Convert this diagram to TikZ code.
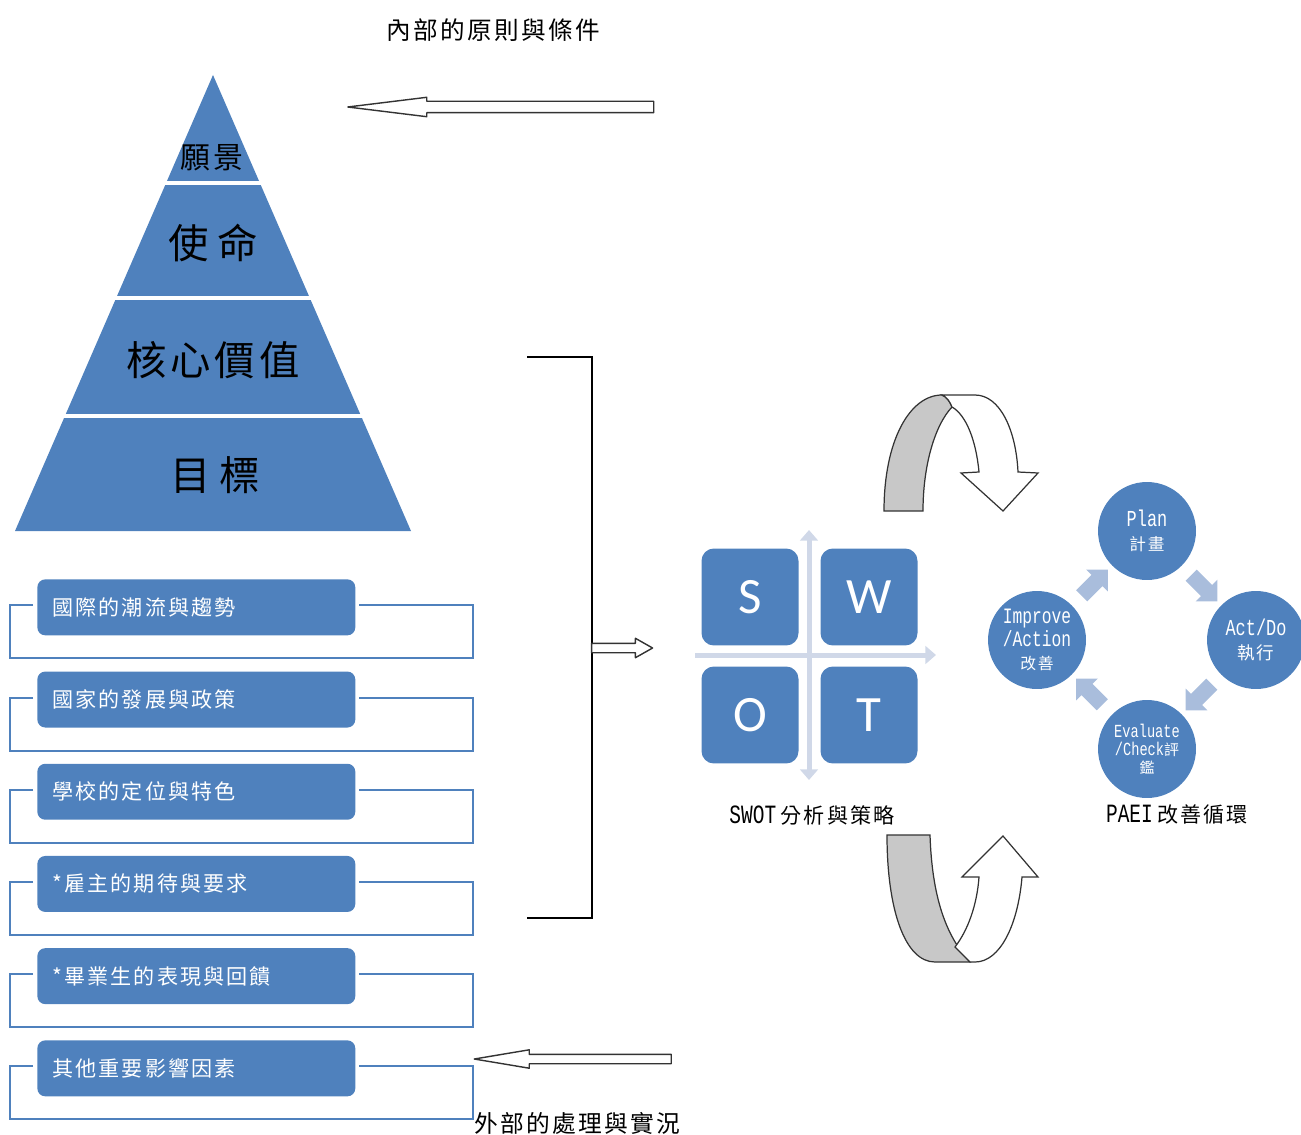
\documentclass[tikz,border=0pt]{standalone}
\usepackage{fontspec}
\setmainfont{Liberation Serif}
\newfontfamily\cjk[LetterSpace=10]{Noto Sans CJK TC}
\newfontfamily\latinnarrow[FakeStretch=0.74]{Liberation Mono}
\newfontfamily\swotfont{Carlito}
\usepackage{tikz}
\usetikzlibrary{shapes.geometric, shapes.arrows, arrows.meta, positioning, calc}
\definecolor{officeblue}{HTML}{4F81BD}
\definecolor{axisgray}{HTML}{D0D8E8}
\definecolor{cyclelight}{HTML}{A9BDDC}
\definecolor{foldgray}{HTML}{C8C8C8}

\tikzset{
  layertext/.style={text=black, inner sep=0pt},
  factorbox/.style={rectangle, rounded corners=4.5pt, fill=officeblue, text=white,
    text width=5.76cm, inner xsep=0.3cm, minimum height=1.12cm, align=left,
    font=\cjk\fontsize{12}{12}\selectfont},
  factorline/.style={draw=officeblue, line width=1.1pt},
  swotbox/.style={rectangle, rounded corners=7pt, fill=officeblue, text=white,
    minimum size=1.94cm, inner sep=0pt, font=\swotfont\fontsize{29}{29}\selectfont},
  swotaxis/.style={draw=axisgray, line width=0.1cm, {Triangle[length=6pt,width=10pt]}-{Triangle[length=6pt,width=10pt]}},
  cyclenode/.style={circle, fill=officeblue, text=white, minimum size=1.96cm,
    inner sep=0pt, align=center, font=\fontsize{13}{13.3}\selectfont\latinnarrow},
  cyclearrow/.style={single arrow, fill=cyclelight, minimum height=0.74cm,
    inner xsep=0pt, inner ysep=0.15cm, single arrow head extend=0.15cm,
    sloped, allow upside down},
  hollowarrow/.style={single arrow, draw=black!80, fill=white, line width=0.8pt,
    line join=round, inner xsep=0pt, anchor=tip},
  uturn/.style={draw=black!80, line width=0.7pt},
  caption/.style={inner sep=0pt, text=black}
}

\begin{document}
\begin{tikzpicture}[x=0.02cm, y=-0.02cm]
\useasboundingbox (0,0) rectangle (1301,1135);

% internal side
\node[caption, font=\cjk\fontsize{14}{14}\selectfont] (innertitle) at (493,30) {內部的原則與條件};
\node[hollowarrow, minimum height=6.12cm, inner ysep=0.1cm,
      single arrow head extend=0.08cm, single arrow tip angle=14, rotate=180] (innerarrow) at (342,107) {};

% pyramid
\fill[officeblue] (213,75) -- (411,531) -- (15,531) -- cycle;
\foreach \y in {183,298,416}
  \draw[white, line width=0.07cm] (40,\y) -- (390,\y);
\node[layertext, font=\cjk\fontsize{17}{17}\selectfont] (vision) at (212,158) {願\hspace{2pt}景};
\node[layertext, font=\cjk\fontsize{23}{23}\selectfont] (mission) at (213,243) {使\hspace{5pt}命};
\node[layertext, font=\cjk\fontsize{23}{23}\selectfont] (values) at (213,360) {核心價值};
\node[layertext, font=\cjk\fontsize{23}{23}\selectfont] (goals) at (215,475) {目\hspace{5pt}標};

% external factors
\foreach \txt [count=\i] in {國際的潮流與趨勢, 國家的發展與政策, 學校的定位與特色,
    *雇主的期待與要求, *畢業生的表現與回饋, 其他重要影響因素} {
  \pgfmathsetmacro{\ytop}{579+92.2*(\i-1)}
  \node[factorbox, anchor=north west] (factor\i) at (37,\ytop) {\txt};
  \draw[factorline] ([xshift=-0.08cm,yshift=0.04cm]factor\i.west) -- ++(-23,0) -- ++(0,53)
    -- ++(463,0) -- ++(0,-53) -- ([xshift=0.06cm,yshift=0.04cm]factor\i.east);
}

% bracket
\coordinate (brtop) at (527,357);
\coordinate (brbot) at (527,918);
\draw[black, line width=0.9pt] (brtop) -- ++(65,0) -- ++(0,561) -- (brbot);
\node[hollowarrow, minimum height=1.22cm, inner ysep=0.08cm,
      single arrow head extend=0.1cm, single arrow tip angle=59] (toswot) at (654,648) {};

\node[hollowarrow, minimum height=3.94cm, inner ysep=0.08cm,
      single arrow head extend=0.09cm, single arrow tip angle=19, rotate=180] (outerarrow) at (470,1059) {};
\node[caption, font=\cjk\fontsize{13.5}{13.5}\selectfont, anchor=west] (outertitle) at (474,1123) {外部的處理與實況};

% SWOT
\coordinate (vtop) at (809,530);
\coordinate (vbot) at (809,780);
\coordinate (hleft) at (695,655);
\coordinate (hright) at (936,655);
\draw[swotaxis] (vtop) -- (vbot);
\draw[draw=axisgray, line width=0.1cm, -{Triangle[length=6pt,width=10pt]}] (hleft) -- (hright);
\node[swotbox] (s) at (750,597) {S};
\node[swotbox] (w) at (869,597) {W};
\node[swotbox] (o) at (750,715) {O};
\node[swotbox] (t) at (869,715) {T};
\node[caption] (swottitle) at (812,815)
  {{\latinnarrow\fontsize{15}{15}\selectfont SWOT} {\cjk\fontsize{12}{12}\selectfont 分析與策略}};

% u-turn arrows
\draw[uturn, fill=foldgray] (884,511) .. controls (884,440) and (910,395) .. (942,395)
  .. controls (947,397) and (950,402) .. (952,407)
  .. controls (935,425) and (923,465) .. (923,511) -- cycle;
\draw[uturn, fill=white] (942,395) -- (975,395) .. controls (1000,395) and (1016,430) .. (1018,472)
  -- (1038,473) -- (1003,511) -- (961,473) -- (979,472)
  .. controls (976,440) and (966,415) .. (952,407)
  .. controls (950,402) and (947,397) .. (942,395) -- cycle;

\draw[uturn, fill=foldgray] (887,835) -- (930,835) .. controls (932,895) and (945,935) .. (970,962)
  -- (935,962) .. controls (905,962) and (887,910) .. (887,835) -- cycle;
\draw[uturn, fill=white] (955,947) .. controls (968,930) and (977,905) .. (979,877)
  -- (962,877) -- (1003,836) -- (1038,877) -- (1022,877)
  .. controls (1018,925) and (1000,962) .. (975,962) -- (970,962) -- cycle;

% PAEI cycle
\node[cyclenode] (plan) at (1147,531) {Plan\\{\cjk\fontsize{9.5}{13.3}\selectfont 計畫}};
\node[cyclenode] (act) at (1256,640) {Act/Do\\{\cjk\fontsize{10}{13.3}\selectfont 執行}};
\node[cyclenode, font=\fontsize{10.5}{10.3}\selectfont\latinnarrow] (evaluate) at (1147,749)
  {Evaluate\\/Check{\cjk\fontsize{8.5}{10.3}\selectfont 評}\\{\cjk\fontsize{8.5}{10.3}\selectfont 鑑}};
\node[cyclenode, font=\fontsize{12.5}{13}\selectfont\latinnarrow] (improve) at (1037,640)
  {Improve\\/Action\\{\cjk\fontsize{9}{13}\selectfont 改善}};
\path (plan) -- node[cyclearrow] {} (act);
\path (act) -- node[cyclearrow] {} (evaluate);
\path (evaluate) -- node[cyclearrow] {} (improve);
\path (improve) -- node[cyclearrow] {} (plan);
\node[caption] (paeititle) at (1177,815)
  {{\latinnarrow\fontsize{15}{15}\selectfont PAEI} {\cjk\fontsize{12}{12}\selectfont 改善循環}};
\end{tikzpicture}
\end{document}
